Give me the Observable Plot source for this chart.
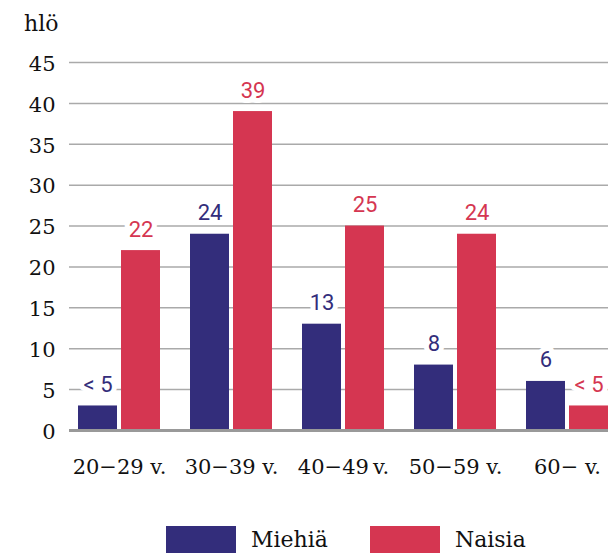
<!DOCTYPE html>
<html><head><meta charset="utf-8">
<script src="https://cdn.jsdelivr.net/npm/d3@7"></script>
<script src="https://cdn.jsdelivr.net/npm/@observablehq/plot@0.6"></script>
<style>
body{margin:0;background:#fff;position:relative;width:608px;height:553px;overflow:hidden;}
#chart svg{display:block;overflow:hidden;}
#legend{position:absolute;top:523px;left:166px;}
#legend .lg-swatches{font-family:"DejaVu Serif",serif;font-size:22px;color:#111;margin:0;}
#legend .lg-swatch{margin-right:42px;}
#legend .lg-swatch > svg{margin-right:15px;}
</style></head><body>
<div id="chart"></div><div id="legend"></div>
<script>
const groups = ["20\u221229 v.", "30\u221239 v.", "40\u221249\u2009v.", "50\u221259 v.", "60\u2212 v."];
const seriesNames = ["Miehiä", "Naisia"];
const seriesColors = ["#332d7b", "#d53651"];
const miehia = [3, 24, 13, 8, 6];
const naisia = [22, 39, 25, 24, 3];
const miehiaLabels = ["< 5", "24", "13", "8", "6"];
const naisiaLabels = ["22", "39", "25", "24", "< 5"];
const yTicks = [0, 5, 10, 15, 20, 25, 30, 35, 40, 45];

const men = groups.map((g, i) => ({group: g, series: seriesNames[0], value: miehia[i], label: miehiaLabels[i]}));
const women = groups.map((g, i) => ({group: g, series: seriesNames[1], value: naisia[i], label: naisiaLabels[i]}));

const labelStyle = {x: "group", y: "value", text: "label", fill: "series", lineAnchor: "bottom", dy: -14,
  stroke: "white", strokeWidth: 10, paintOrder: "stroke", fontFamily: "Roboto", fontWeight: 400, fontSize: 22};

const chart = Plot.plot({
  width: 608, height: 510,
  marginLeft: 69, marginRight: 0, marginTop: 62, marginBottom: 80,
  style: {fontFamily: "DejaVu Serif", fontSize: "21px", color: "#111", background: "#fff", overflow: "hidden"},
  x: {type: "band", domain: groups, range: [63, 623], padding: 0, label: null},
  y: {domain: [0, 45], label: null},
  color: {domain: seriesNames, range: seriesColors},
  marks: [
    Plot.ruleY(yTicks, {stroke: "#aaa", strokeWidth: 1.5}),
    Plot.barY(men, {x: "group", y: "value", fill: "series", insetLeft: 15, insetRight: 58}),
    Plot.barY(women, {x: "group", y: "value", fill: "series", insetLeft: 58, insetRight: 15}),
    Plot.ruleY([0], {stroke: "#999", strokeWidth: 3}),
    Plot.text(men, {...labelStyle, dx: -21.5}),
    Plot.text(women, {...labelStyle, dx: 21.5}),
    Plot.axisY({ticks: yTicks, tickSize: 0, tickPadding: 14, dy: 1.5, label: null, fontSize: 21}),
    Plot.axisX({tickSize: 0, tickPadding: 0, dy: 29, label: null, fontSize: 21}),
    Plot.text(["hlö"], {frameAnchor: "top-left", textAnchor: "end", lineAnchor: "bottom", dx: -11, dy: -32, fill: "#111", fontSize: 22})
  ]
});
document.getElementById("chart").appendChild(chart);

const legend = Plot.legend({
  color: {domain: seriesNames, range: seriesColors},
  swatchWidth: 70, swatchHeight: 27, className: "lg"
});
document.getElementById("legend").appendChild(legend);
</script>
</body></html>
